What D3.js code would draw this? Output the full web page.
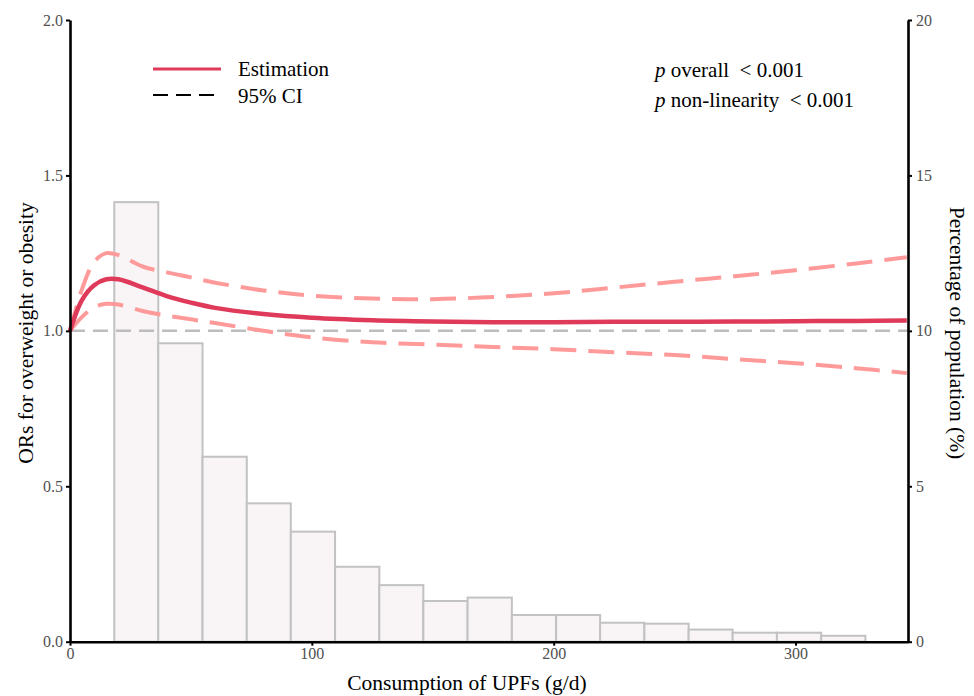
<!DOCTYPE html>
<html>
<head>
<meta charset="utf-8">
<script src="https://cdn.jsdelivr.net/npm/d3@7"></script>
<style>
  body { margin: 0; background: #fff; }
  svg text { font-family: "Liberation Serif", "Times New Roman", serif; white-space: pre; }
</style>
</head>
<body>
<svg id="chart"></svg>
<script>
// histogram of intake (bin edges in g/d, share in %)
var binEdges = [18.3, 36.5, 54.8, 73.1, 91.3, 109.6, 127.9, 146.1, 164.4, 182.7, 201.0, 219.2, 237.5, 255.8, 274.0, 292.3, 310.6, 328.9]
var binPct = [14.14, 9.6, 5.95, 4.45, 3.54, 2.41, 1.82, 1.31, 1.42, 0.86, 0.86, 0.61, 0.58, 0.39, 0.29, 0.29, 0.19]

// spline samples
var dose = [0, 5, 10, 15, 20, 30, 40, 50, 60, 80, 100, 125, 150, 175, 200, 225, 250, 275, 300, 325, 346]
var orEst = [1.0, 1.10, 1.147, 1.166, 1.166, 1.140, 1.112, 1.091, 1.074, 1.054, 1.042, 1.034, 1.030, 1.028, 1.028, 1.029, 1.029, 1.030, 1.031, 1.032, 1.033]
var orUpper = [1.0, 1.135, 1.222, 1.250, 1.244, 1.207, 1.188, 1.172, 1.155, 1.130, 1.113, 1.104, 1.102, 1.109, 1.121, 1.139, 1.158, 1.176, 1.195, 1.217, 1.237]
var orLower = [1.0, 1.045, 1.076, 1.087, 1.085, 1.064, 1.049, 1.037, 1.025, 1.0, 0.979, 0.963, 0.956, 0.948, 0.941, 0.931, 0.922, 0.909, 0.896, 0.880, 0.864]

var xTicks = [0, 100, 200, 300]
var yTicks = [0, 0.5, 1.0, 1.5, 2.0]
var y2Ticks = [0, 5, 10, 15, 20]

var W = 974, H = 696
  , pL = 70, pR = 908, pT = 20, pB = 641.7

var svg = d3.select('#chart').attr('width', W).attr('height', H)

var x = d3.scaleLinear().domain([0, 346.5]).range([pL, pR])
  , y = d3.scaleLinear().domain([0, 2]).range([pB, pT])
  , y2 = d3.scaleLinear().domain([0, 20]).range([pB, pT])

// bars
svg.append('g').selectAll('rect').data(binPct)
  .enter().append('rect')
    .attr('x', function(d, i){ return x(binEdges[i]) })
    .attr('width', function(d, i){ return x(binEdges[i + 1]) - x(binEdges[i]) })
    .attr('y', function(d){ return y2(d) })
    .attr('height', function(d){ return pB - y2(d) })
    .attr('fill', '#f9f5f6')
    .attr('stroke', '#c2c2c2')
    .attr('stroke-width', 2)

// reference line at OR = 1
svg.append('line')
  .attr('x1', pL).attr('x2', pR)
  .attr('y1', y(1)).attr('y2', y(1))
  .attr('stroke', '#bdbdbd').attr('stroke-width', 2.5)
  .attr('stroke-dasharray', '15,8')

var line = d3.line()
  .x(function(d, i){ return x(dose[i]) })
  .y(function(d){ return y(d) })
  .curve(d3.curveCatmullRom.alpha(0.5))

;[orUpper, orLower].forEach(function(s){
  svg.append('path').datum(s)
    .attr('d', line)
    .attr('fill', 'none')
    .attr('stroke', '#ff9a9a')
    .attr('stroke-width', 4)
    .attr('stroke-dasharray', '26,12')
})

svg.append('path').datum(orEst)
  .attr('d', line)
  .attr('fill', 'none')
  .attr('stroke', '#e03a5a')
  .attr('stroke-width', 4.5)

// axes
function styleAxis(g){
  g.attr('font-family', null).attr('font-size', null)
  g.select('.domain').attr('stroke', '#000').attr('stroke-width', 2.6)
  g.selectAll('.tick line').attr('stroke', '#000').attr('stroke-width', 2)
  g.selectAll('.tick text').attr('fill', '#505050').style('font-size', '16px')
}

svg.append('g')
  .attr('transform', 'translate(0,' + pB + ')')
  .call(d3.axisBottom(x).tickValues(xTicks).tickSize(4).tickSizeOuter(0).tickPadding(2))
  .call(styleAxis)

svg.append('g')
  .attr('transform', 'translate(' + pL + ',0)')
  .call(d3.axisLeft(y).tickValues(yTicks).tickSize(4).tickSizeOuter(0).tickPadding(3)
    .tickFormat(d3.format('.1f')))
  .call(styleAxis)

svg.append('g')
  .attr('transform', 'translate(' + pR + ',0)')
  .call(d3.axisRight(y2).tickValues(y2Ticks).tickSize(4).tickSizeOuter(0).tickPadding(4))
  .call(styleAxis)

// axis titles
svg.append('text')
  .attr('x', 467).attr('y', 690)
  .attr('text-anchor', 'middle')
  .style('font-size', '21.5px')
  .text('Consumption of UPFs (g/d)')

svg.append('text')
  .attr('transform', 'translate(33,' + 333 + ') rotate(-90)')
  .attr('text-anchor', 'middle')
  .style('font-size', '21.5px')
  .text('ORs for overweight or obesity')

svg.append('text')
  .attr('transform', 'translate(950,' + 333 + ') rotate(90)')
  .attr('text-anchor', 'middle')
  .style('font-size', '21.5px')
  .text('Percentage of population (%)')

// legend
var leg = svg.append('g')
leg.append('line')
  .attr('x1', 153).attr('x2', 221).attr('y1', 69).attr('y2', 69)
  .attr('stroke', '#e03a5a').attr('stroke-width', 3)
leg.append('line')
  .attr('x1', 153).attr('x2', 215).attr('y1', 95).attr('y2', 95)
  .attr('stroke', '#000').attr('stroke-width', 2.2)
  .attr('stroke-dasharray', '15,8')
leg.append('text').attr('x', 238).attr('y', 76).style('font-size', '21px').text('Estimation')
leg.append('text').attr('x', 238).attr('y', 103).style('font-size', '21px').text('95% CI')

// p values
var pv = svg.append('g').style('font-size', '21px')
var t1 = pv.append('text').attr('x', 655).attr('y', 77)
t1.append('tspan').style('font-style', 'italic').text('p')
t1.append('tspan').text(' overall  < 0.001')
var t2 = pv.append('text').attr('x', 655).attr('y', 107)
t2.append('tspan').style('font-style', 'italic').text('p')
t2.append('tspan').text(' non-linearity  < 0.001')
</script>
</body>
</html>
